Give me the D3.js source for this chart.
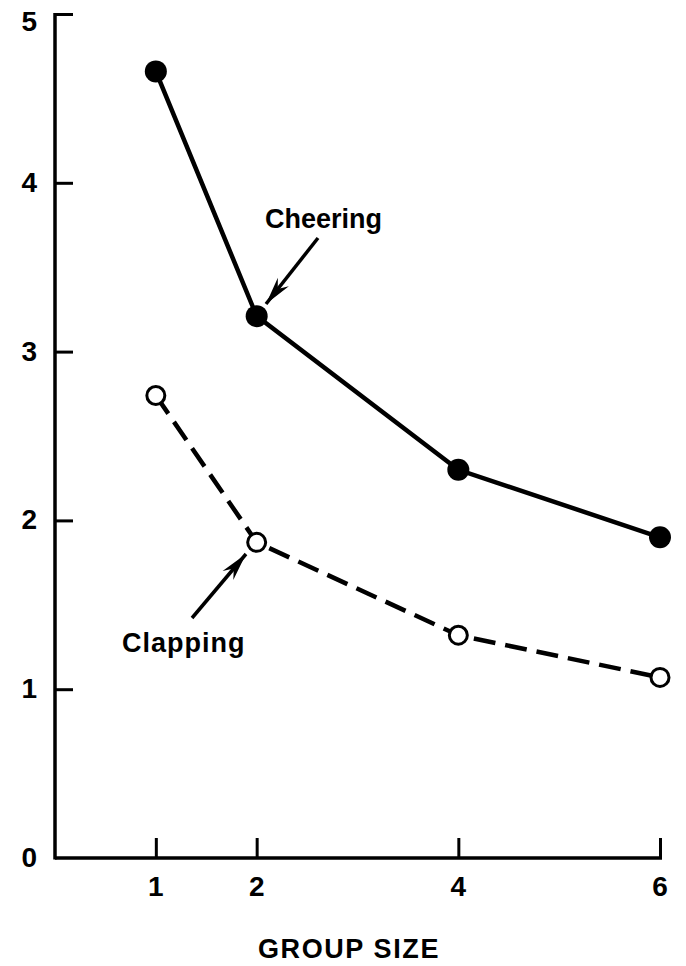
<!DOCTYPE html>
<html><head><meta charset="utf-8">
<script src="https://cdn.jsdelivr.net/npm/d3@7"></script>
<style>body{margin:0;background:#fff}svg{display:block}text{font-family:"Liberation Sans",Arial,sans-serif;font-weight:bold;fill:#000}</style>
</head><body><svg id="c" width="686" height="966"></svg>
<script>
const groupSizes = [1, 2, 4, 6];
const cheering = [4.66, 3.21, 2.30, 1.90];
const clapping = [2.74, 1.87, 1.32, 1.07];
const yTicks = [0, 1, 2, 3, 4, 5];
const xTicks = [1, 2, 4, 6];
const xTitle = "GROUP SIZE";

const svg = d3.select("#c");
const x = d3.scaleLinear().domain([0, 6]).range([55, 660]);
const y = d3.scaleLinear().domain([0, 5]).range([858, 14]);

// y axis
const yAx = svg.append("g").attr("transform", `translate(${x(0)},0)`)
  .call(d3.axisRight(y).tickValues(yTicks).tickSize(18).tickFormat(""));
yAx.select(".domain").remove();
yAx.selectAll(".tick line").attr("stroke", "#000").attr("stroke-width", 3)
  .filter(d => d === 0).remove();
svg.append("line").attr("x1", x(0)).attr("x2", x(0)).attr("y1", y(5)-1).attr("y2", y(0)+1.5)
  .attr("stroke", "#000").attr("stroke-width", 3.5);
svg.selectAll(".ylab").data(yTicks).join("text")
  .attr("x", 37).attr("y", d => Math.max(y(d) + 9, 31)).attr("text-anchor", "end")
  .attr("font-size", 28).text(d => d);

// x axis
const xAx = svg.append("g").attr("transform", `translate(0,${y(0)})`)
  .call(d3.axisTop(x).tickValues(xTicks).tickSize(20).tickFormat(""));
xAx.select(".domain").remove();
xAx.selectAll(".tick line").attr("stroke", "#000").attr("stroke-width", 3);
svg.append("line").attr("x1", x(0)).attr("x2", x(6)+2).attr("y1", y(0)).attr("y2", y(0))
  .attr("stroke", "#000").attr("stroke-width", 3.5);
svg.selectAll(".xlab").data(xTicks).join("text")
  .attr("x", d => x(d)).attr("y", y(0) + 38).attr("text-anchor", "middle")
  .attr("font-size", 28).text(d => d);
svg.append("text").attr("x", 349).attr("y", 958).attr("text-anchor", "middle")
  .attr("font-size", 27).attr("letter-spacing", 1.6).text(xTitle);

const line = d3.line().x((d, i) => x(groupSizes[i])).y(d => y(d));
svg.append("path").datum(cheering).attr("d", line).attr("fill", "none")
  .attr("stroke", "#000").attr("stroke-width", 4.5);
svg.append("path").datum(clapping).attr("d", line).attr("fill", "none")
  .attr("stroke", "#000").attr("stroke-width", 4.5).attr("stroke-dasharray", "22,10");

svg.selectAll(".cp").data(cheering).join("circle")
  .attr("cx", (d, i) => x(groupSizes[i])).attr("cy", d => y(d)).attr("r", 11).attr("fill", "#000");
svg.selectAll(".op").data(clapping).join("circle")
  .attr("cx", (d, i) => x(groupSizes[i])).attr("cy", d => y(d)).attr("r", 9)
  .attr("fill", "#fff").attr("stroke", "#000").attr("stroke-width", 3);

// annotations
function arrow(x1, y1, x2, y2) {
  svg.append("line").attr("x1", x1).attr("y1", y1).attr("x2", x2).attr("y2", y2)
    .attr("stroke", "#000").attr("stroke-width", 3.5);
  const a = Math.atan2(y2 - y1, x2 - x1), L = 28, w = 7;
  const bx = x2 - L * Math.cos(a), by = y2 - L * Math.sin(a);
  const nx = -Math.sin(a), ny = Math.cos(a);
  const mx = x2 - 19 * Math.cos(a), my = y2 - 19 * Math.sin(a);
  svg.append("path").attr("d",
    `M${x2},${y2}L${bx + nx*w},${by + ny*w}L${mx},${my}L${bx - nx*w},${by - ny*w}Z`).attr("fill", "#000");
}
svg.append("text").attr("x", 265).attr("y", 228).attr("font-size", 27).text("Cheering");
arrow(318, 238, 266, 304);
svg.append("text").attr("x", 122).attr("y", 652).attr("font-size", 27).attr("letter-spacing", 1).text("Clapping");
arrow(192, 618, 246, 554);
</script></body></html>
